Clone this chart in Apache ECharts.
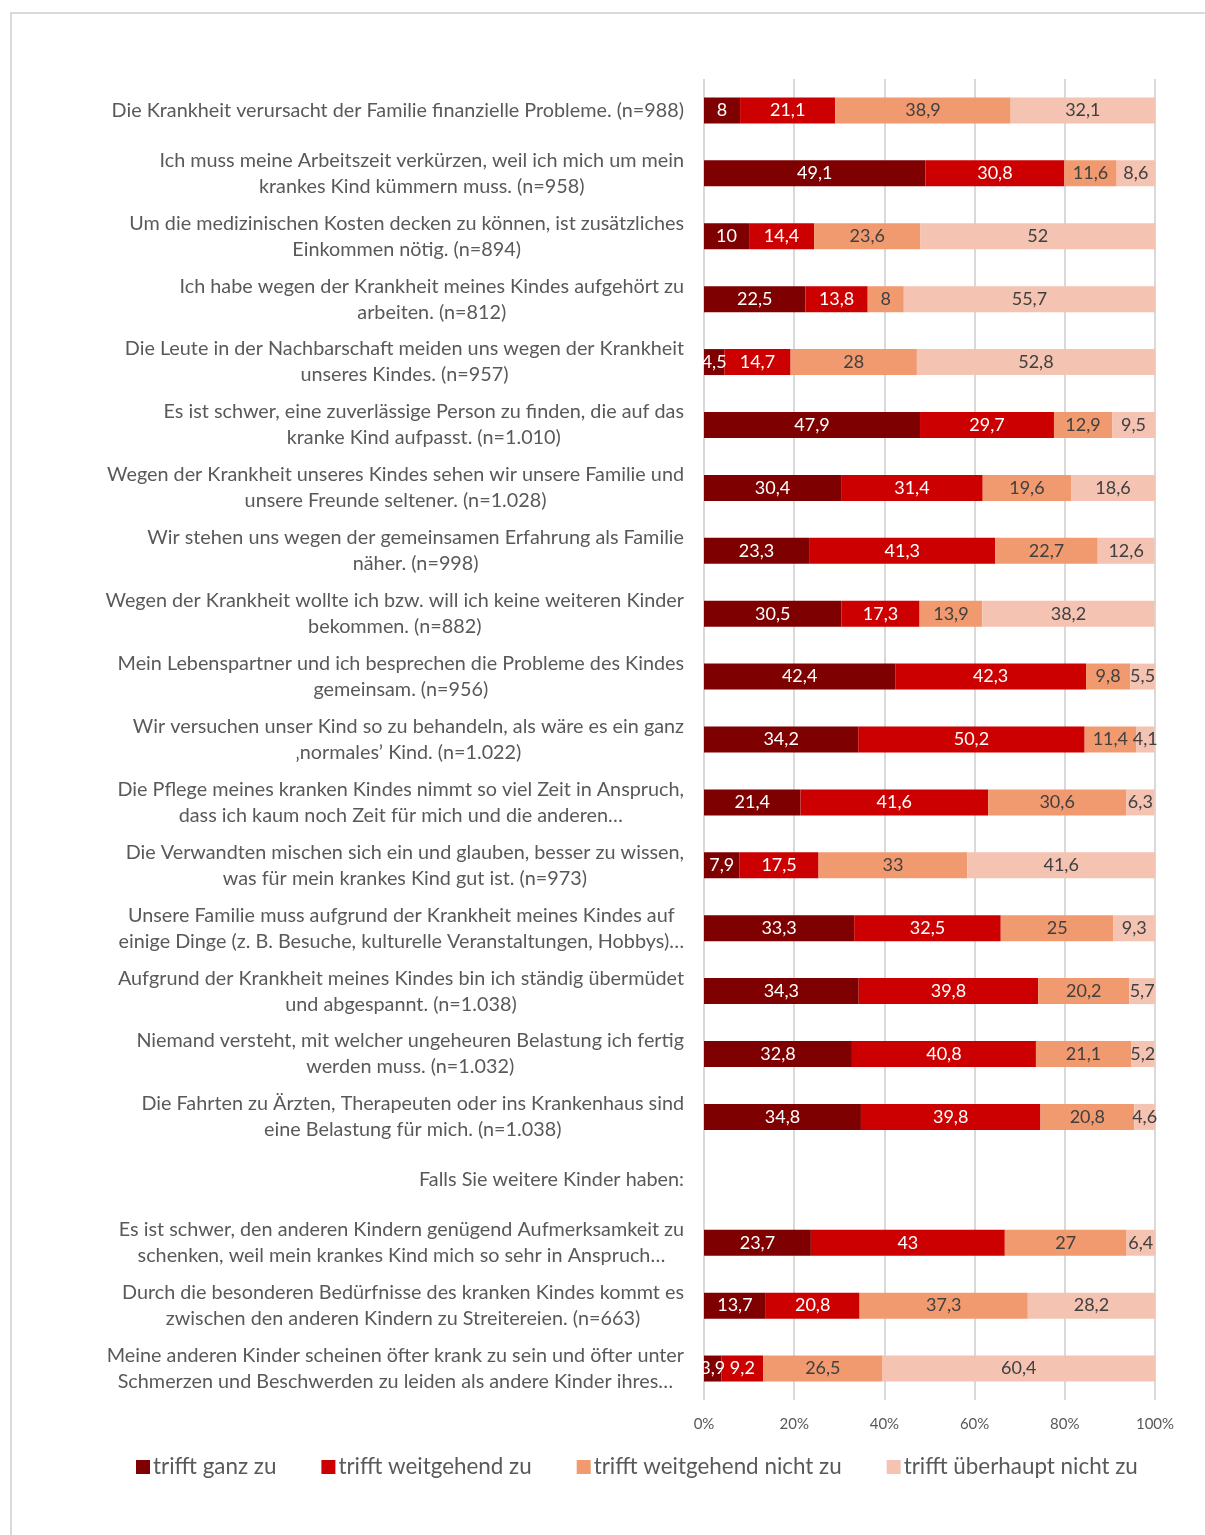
<!DOCTYPE html>
<html>
<head>
<meta charset="utf-8">
<script src="https://cdn.jsdelivr.net/npm/echarts@6/dist/echarts.min.js"></script>
<style>
  html, body { margin: 0; padding: 0; background: #fff; overflow: hidden; }
  #frame { position: absolute; left: 10px; top: 12px; width: 1400px; height: 1700px;
           border: 2px solid #d9d9d9; box-sizing: border-box; }
  #chart { position: absolute; left: 0; top: 0; width: 1205px; height: 1535px; }
</style>
</head>
<body>
<div id="frame"></div>
<div id="chart"></div>
<script>
// Statements (line breaks as they wrap in the chart)
const statements = [
  'Die Krankheit verursacht der Familie finanzielle Probleme. (n=988)',
  'Ich muss meine Arbeitszeit verkürzen, weil ich mich um mein\nkrankes Kind kümmern muss. (n=958)',
  'Um die medizinischen Kosten decken zu können, ist zusätzliches\nEinkommen nötig. (n=894)',
  'Ich habe wegen der Krankheit meines Kindes aufgehört zu\narbeiten. (n=812)',
  'Die Leute in der Nachbarschaft meiden uns wegen der Krankheit\nunseres Kindes. (n=957)',
  'Es ist schwer, eine zuverlässige Person zu finden, die auf das\nkranke Kind aufpasst. (n=1.010)',
  'Wegen der Krankheit unseres Kindes sehen wir unsere Familie und\nunsere Freunde seltener. (n=1.028)',
  'Wir stehen uns wegen der gemeinsamen Erfahrung als Familie\nnäher. (n=998)',
  'Wegen der Krankheit wollte ich bzw. will ich keine weiteren Kinder\nbekommen. (n=882)',
  'Mein Lebenspartner und ich besprechen die Probleme des Kindes\ngemeinsam. (n=956)',
  'Wir versuchen unser Kind so zu behandeln, als wäre es ein ganz\n‚normales’ Kind. (n=1.022)',
  'Die Pflege meines kranken Kindes nimmt so viel Zeit in Anspruch,\ndass ich kaum noch Zeit für mich und die anderen…',
  'Die Verwandten mischen sich ein und glauben, besser zu wissen,\nwas für mein krankes Kind gut ist. (n=973)',
  'Unsere Familie muss aufgrund der Krankheit meines Kindes auf\neinige Dinge (z. B. Besuche, kulturelle Veranstaltungen, Hobbys)…',
  'Aufgrund der Krankheit meines Kindes bin ich ständig übermüdet\nund abgespannt. (n=1.038)',
  'Niemand versteht, mit welcher ungeheuren Belastung ich fertig\nwerden muss. (n=1.032)',
  'Die Fahrten zu Ärzten, Therapeuten oder ins Krankenhaus sind\neine Belastung für mich. (n=1.038)',
  'Falls Sie weitere Kinder haben:',
  'Es ist schwer, den anderen Kindern genügend Aufmerksamkeit zu\nschenken, weil mein krankes Kind mich so sehr in Anspruch…',
  'Durch die besonderen Bedürfnisse des kranken Kindes kommt es\nzwischen den anderen Kindern zu Streitereien. (n=663)',
  'Meine anderen Kinder scheinen öfter krank zu sein und öfter unter\nSchmerzen und Beschwerden zu leiden als andere Kinder ihres…'
];

// Answer shares in percent (the heading row has no values)
const ganzZu          = [8, 49.1, 10, 22.5, 4.5, 47.9, 30.4, 23.3, 30.5, 42.4, 34.2, 21.4, 7.9, 33.3, 34.3, 32.8, 34.8, null, 23.7, 13.7, 3.9];
const weitgehendZu    = [21.1, 30.8, 14.4, 13.8, 14.7, 29.7, 31.4, 41.3, 17.3, 42.3, 50.2, 41.6, 17.5, 32.5, 39.8, 40.8, 39.8, null, 43, 20.8, 9.2];
const weitgehendNicht = [38.9, 11.6, 23.6, 8, 28, 12.9, 19.6, 22.7, 13.9, 9.8, 11.4, 30.6, 33, 25, 20.2, 21.1, 20.8, null, 27, 37.3, 26.5];
const ueberhauptNicht = [32.1, 8.6, 52, 55.7, 52.8, 9.5, 18.6, 12.6, 38.2, 5.5, 4.1, 6.3, 41.6, 9.3, 5.7, 5.2, 4.6, null, 6.4, 28.2, 60.4];

const seriesNames = ['trifft ganz zu', 'trifft weitgehend zu', 'trifft weitgehend nicht zu', 'trifft überhaupt nicht zu'];
const seriesColors = ['#7f0000', '#cc0000', '#f1996f', '#f5c3b1'];
const labelColors = ['#ffffff', '#ffffff', '#404040', '#404040'];

const FONT = 'Lato, "Open Sans", sans-serif';
const CAT_SIZE = 19.8;

function makeSeries(i, data) {
  return {
    name: seriesNames[i],
    type: 'bar',
    stack: 'total',
    barWidth: 26,
    data: data,
    itemStyle: { color: seriesColors[i] },
    label: {
      show: true,
      position: 'inside',
      color: labelColors[i],
      fontFamily: FONT,
      fontSize: 18,
      formatter: p => (p.value == null ? '' : String(p.value).replace('.', ','))
    }
  };
}

const chart = echarts.init(document.getElementById('chart'), null, { renderer: 'canvas' });
chart.setOption({
  animation: false,
  backgroundColor: 'transparent',
  grid: { left: 704, right: 50, top: 79, bottom: 135, containLabel: false },
  xAxis: {
    type: 'value',
    min: 0, max: 100, interval: 20,
    axisLine: { show: false },
    axisTick: { show: false },
    splitLine: { show: true, lineStyle: { color: '#d9d9d9', width: 2 } },
    axisLabel: { formatter: '{value}%', color: '#595959', fontFamily: FONT, fontSize: 15, margin: 17 }
  },
  yAxis: {
    type: 'category',
    inverse: true,
    data: statements,
    axisLine: { show: false },
    axisTick: { show: false },
    axisLabel: {
      margin: 20,
      color: '#595959',
      fontFamily: FONT,
      fontSize: CAT_SIZE,
      lineHeight: 26,
      formatter: v => v.split('\n').map(l => '{c|' + l + '}').join('\n'),
      rich: { c: { align: 'center', color: '#595959', fontFamily: FONT, fontSize: CAT_SIZE, lineHeight: 26 } }
    }
  },
  legend: {
    bottom: 57,
    left: 136,
    icon: 'rect',
    itemWidth: 14,
    itemHeight: 14,
    itemGap: 45,
    padding: 0,
    textStyle: { color: '#595959', fontFamily: FONT, fontSize: 22.4, padding: [0, 0, 0, -2] },
    data: seriesNames
  },
  series: [
    makeSeries(0, ganzZu),
    makeSeries(1, weitgehendZu),
    makeSeries(2, weitgehendNicht),
    makeSeries(3, ueberhauptNicht)
  ]
});
</script>
</body>
</html>
